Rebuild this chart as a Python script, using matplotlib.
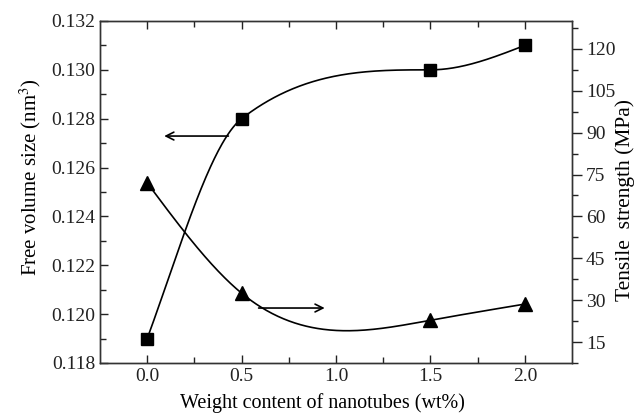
import matplotlib

matplotlib.use("Agg")
import matplotlib.pyplot as plt
import numpy as np

# data
content = [0.0, 0.5, 1.5, 2.0]                  # wt% nanotubes
free_volume = [0.119, 0.128, 0.130, 0.131]      # nm^3, left axis (squares)
tensile = [72.0, 32.5, 22.8, 28.6]              # MPa, right axis (triangles)

# arrow annotations (x start, x end, y in left-axis units)
arrow_left = (0.43, 0.09, 0.12729)
arrow_right = (0.59, 0.94, 0.12025)

XLIM = (-0.25, 2.25)
YLIM_L = (0.118, 0.132)
YLIM_R = (10, 130)

plt.rcParams["font.family"] = ["Liberation Serif", "DejaVu Serif"]
plt.rcParams["mathtext.fontset"] = "stix"


def spline_slopes(x, y):
    """Knot slopes of the natural cubic spline through (x, y)."""
    x = np.asarray(x, float)
    y = np.asarray(y, float)
    n = len(x)
    h = np.diff(x)
    s = np.diff(y) / h
    A = np.zeros((n, n))
    b = np.zeros(n)
    A[0, 0] = A[-1, -1] = 1.0
    for i in range(1, n - 1):
        A[i, i - 1] = h[i - 1]
        A[i, i] = 2 * (h[i - 1] + h[i])
        A[i, i + 1] = h[i]
        b[i] = 6 * (s[i] - s[i - 1])
    M = np.linalg.solve(A, b)
    d = np.empty(n)
    d[:-1] = s - h * (2 * M[:-1] + M[1:]) / 6
    d[-1] = s[-1] + h[-1] * (M[-2] + 2 * M[-1]) / 6
    return d


def smooth_curve(x, y, monotone=False, n=400):
    """Cubic Hermite curve through the points; natural-spline slopes,
    optionally damped (Fritsch-Carlson) to avoid overshoot."""
    x = np.asarray(x, float)
    y = np.asarray(y, float)
    d = spline_slopes(x, y)
    if monotone:
        s = np.diff(y) / np.diff(x)
        for k in range(len(s)):
            a, b = d[k] / s[k], d[k + 1] / s[k]
            r = a * a + b * b
            if r > 9:
                tau = 3 / np.sqrt(r)
                d[k], d[k + 1] = tau * d[k], tau * d[k + 1]
    xx = np.linspace(x[0], x[-1], n)
    k = np.clip(np.searchsorted(x, xx) - 1, 0, len(x) - 2)
    h = x[k + 1] - x[k]
    u = (xx - x[k]) / h
    h00 = (1 + 2 * u) * (1 - u) ** 2
    h10 = u * (1 - u) ** 2
    h01 = u ** 2 * (3 - 2 * u)
    h11 = u ** 2 * (u - 1)
    yy = h00 * y[k] + h10 * h * d[k] + h01 * y[k + 1] + h11 * h * d[k + 1]
    return xx, yy


fig = plt.figure(figsize=(6.37, 4.18), dpi=100)
ax = fig.add_axes([0.157, 0.1316, 0.741, 0.8182])
ax2 = ax.twinx()

cx, cy = smooth_curve(content, free_volume, monotone=True)
ax.plot(cx, cy, color="black", lw=1.2)
ax.plot(content, free_volume, "s", color="black", ms=8)

tx, ty = smooth_curve(content, tensile)
ax2.plot(tx, ty, color="black", lw=1.2)
ax2.plot(content, tensile, "^", color="black", ms=9.5)

for x0, x1, y in (arrow_left, arrow_right):
    ax.annotate("", xy=(x1, y), xytext=(x0, y),
                arrowprops=dict(arrowstyle="->", color="black", lw=1.2,
                                mutation_scale=14, shrinkA=0, shrinkB=0))

ax.set_xlim(*XLIM)
ax.set_ylim(*YLIM_L)
ax2.set_ylim(*YLIM_R)

ax.set_xticks(np.arange(0, 2.01, 0.5))
ax.set_xticks(np.arange(0, 2.01, 0.25), minor=True)
ax.set_yticks(np.arange(0.118, 0.1321, 0.002))
ax.set_yticks(np.arange(0.119, 0.1321, 0.002), minor=True)
ax2.set_yticks(np.arange(15, 121, 15))
ax2.set_yticks(np.arange(7.5, 130, 7.5), minor=True)
ax.xaxis.set_major_formatter(matplotlib.ticker.FormatStrFormatter("%.1f"))
ax.yaxis.set_major_formatter(matplotlib.ticker.FormatStrFormatter("%.3f"))

ax.tick_params(which="both", direction="in", top=True, right=False,
               labelsize=14, width=1, colors="#222222")
ax.tick_params(which="major", length=6)
ax.tick_params(which="minor", length=4)
ax2.tick_params(which="both", direction="out", labelsize=14, width=1,
                colors="#222222", pad=3)
ax2.tick_params(which="major", length=7)
ax2.tick_params(which="minor", length=4)

for a in (ax, ax2):
    for s in a.spines.values():
        s.set_linewidth(1.0)
        s.set_color("#333333")

ax.set_xlabel("Weight content of nanotubes (wt%)", fontsize=14.5, labelpad=6)
ax.set_ylabel("Free volume size (nm$^{3}$)", fontsize=15, labelpad=6)
ax2.set_ylabel("Tensile  strength (MPa)", fontsize=15.5, labelpad=0)
ax.xaxis.label.set_x(0.472)
ax.yaxis.label.set_y(0.544)
ax2.yaxis.label.set_y(0.477)

fig.savefig("out.png", dpi=100)
